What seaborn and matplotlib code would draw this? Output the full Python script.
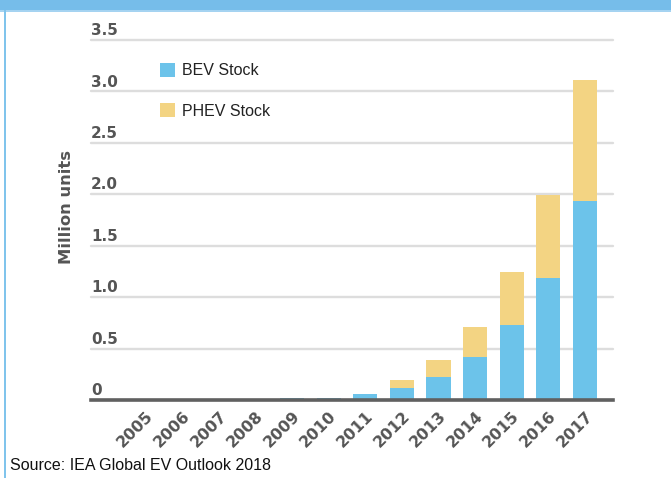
import matplotlib
matplotlib.use("Agg")
import matplotlib.pyplot as plt
import matplotlib.transforms as mtransforms
from matplotlib.patches import Rectangle, Patch
import seaborn as sns
import pandas as pd

years = ["2005", "2006", "2007", "2008", "2009", "2010", "2011",
         "2012", "2013", "2014", "2015", "2016", "2017"]
bev = [0.0017, 0.0023, 0.0021, 0.0027, 0.017, 0.019, 0.054,
       0.115, 0.22, 0.42, 0.73, 1.19, 1.93]
phev = [0.0, 0.0, 0.0, 0.0, 0.0005, 0.0005, 0.006,
        0.075, 0.17, 0.29, 0.51, 0.80, 1.18]
y_ticks = [0, 0.5, 1.0, 1.5, 2.0, 2.5, 3.0, 3.5]
y_tick_labels = ["0", "0.5", "1.0", "1.5", "2.0", "2.5", "3.0", "3.5"]
series_names = ["BEV Stock", "PHEV Stock"]
y_title = "Million units"
source = "Source: IEA Global EV Outlook 2018"

BLUE = "#6cc3ea"
YELLOW = "#f3d483"
GRAY = "#555555"

df = pd.DataFrame({"year": years, "bev": bev, "phev": phev})
df["total"] = df["bev"] + df["phev"]

sns.set_theme(style="white")
plt.rcParams["font.family"] = ["DejaVu Sans"]

fig = plt.figure(figsize=(6.71, 4.78), dpi=100)
ax = fig.add_axes([91 / 671, 1 - 400 / 478, (613 - 91) / 671, 360 / 478])

sns.barplot(data=df, x="year", y="total", color=YELLOW, saturation=1,
            width=0.66, ax=ax, order=years, linewidth=0, edgecolor="none")
sns.barplot(data=df, x="year", y="bev", color=BLUE, saturation=1,
            width=0.66, ax=ax, order=years, linewidth=0, edgecolor="none")

ax.set_xlim(-1.5, 12.77)
ax.set_ylim(0, 3.5)
ax.set_yticks(y_ticks)
ax.set_yticklabels([])
ax.set_xlabel("")
ax.set_ylabel(y_title, fontsize=11.8, fontweight="bold", color=GRAY)
ax.yaxis.set_label_coords(-0.032, 0.535)

ax.set_axisbelow(True)
ax.yaxis.grid(True, color="#dddddd", linewidth=1.7)
ax.xaxis.grid(False)
for gl in ax.get_ygridlines():
    gl.set_clip_on(False)

for side in ["left", "right", "top"]:
    ax.spines[side].set_visible(False)
ax.spines["bottom"].set_color("#606060")
ax.spines["bottom"].set_linewidth(2.6)
ax.tick_params(left=False, bottom=False)

# y tick labels above grid lines, left aligned
trans = mtransforms.blended_transform_factory(ax.transAxes, ax.transData)
trans = mtransforms.offset_copy(trans, fig=fig, x=0, y=3.5, units="points")
for v, lab in zip(y_ticks, y_tick_labels):
    ax.text(0, v, lab, transform=trans, ha="left", va="baseline",
            fontsize=11, fontweight="bold", color=GRAY)

for lab in ax.get_xticklabels():
    lab.set_rotation(45)
    lab.set_ha("right")
    lab.set_va("top")
    lab.set_rotation_mode("anchor")
    lab.set_fontsize(11.3)
    lab.set_fontweight("bold")
    lab.set_color(GRAY)
ax.tick_params(axis="x", pad=0)

handles = [Patch(facecolor=BLUE, edgecolor="none"),
           Patch(facecolor=YELLOW, edgecolor="none")]
leg = ax.legend(handles, series_names, loc="upper left",
                bbox_to_anchor=((160 - 91) / 522, (400 - 63) / 360),
                frameon=False, borderaxespad=0, borderpad=0,
                handlelength=0.95, handleheight=0.95, handletextpad=0.45,
                labelspacing=1.57,
                prop={"family": "Liberation Sans", "size": 11.5})
for t in leg.get_texts():
    t.set_color("#222222")

fig.text(10 / 671, 1 - 465 / 478, source, ha="left", va="center",
         fontsize=11.5, family="Liberation Sans", color="#111111")

# frame decorations
fig.patches.append(Rectangle((0, 1 - 10 / 478), 1, 10 / 478,
                             transform=fig.transFigure, facecolor="#76bdea",
                             edgecolor="none"))
fig.patches.append(Rectangle((0, 1 - 12 / 478), 1, 2 / 478,
                             transform=fig.transFigure, facecolor="#a5d3f1",
                             edgecolor="none"))
fig.patches.append(Rectangle((4 / 671, 0), 2 / 671, 1 - 10 / 478,
                             transform=fig.transFigure, facecolor="#80c4ec",
                             edgecolor="none"))

fig.savefig("out.png", dpi=100)
